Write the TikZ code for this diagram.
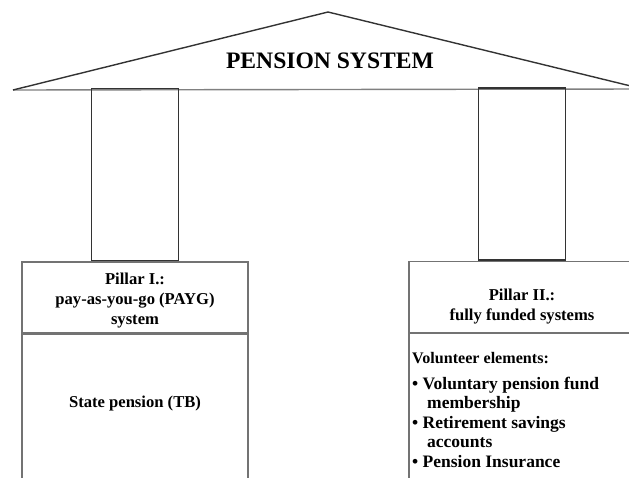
\documentclass[tikz,border=0pt]{standalone}
\usepackage{fontspec}
\setmainfont{Liberation Serif}
\usetikzlibrary{positioning}

\begin{document}
\begin{tikzpicture}[
    x=1pt, y=-1pt,
    node distance=0pt,
    every node/.style={font=\bfseries\fontsize{16.6}{20}\selectfont},
    hdr/.style={rectangle, draw=black!55, line width=1.3pt, minimum width=226pt, minimum height=71pt, inner sep=0pt},
    body/.style={rectangle, draw=black!55, line width=1.3pt, minimum width=226pt, minimum height=160pt, inner sep=0pt},
    pillar/.style={rectangle, draw=black!80, line width=1.4pt, minimum width=87pt, minimum height=172pt, inner sep=0pt},
    txt/.style={align=center, inner sep=0pt},
    items/.style={align=left, inner sep=0pt, font=\bfseries\fontsize{17.5}{19.5}\selectfont}
]
\useasboundingbox (0,0) rectangle (629,477);
\clip (0,0) rectangle (629,477);

% Roof
\coordinate (eaveL) at (13,90);
\coordinate (ridge) at (328,12);
\coordinate (eaveR) at (643,89);
\draw[line width=1.4pt, black!50] (eaveL) -- (eaveR);
\draw[line width=1.4pt, black!80] (eaveL) -- (ridge) -- (eaveR);
\node (title) at (330,61) {\fontsize{23.6}{28}\selectfont PENSION SYSTEM};

% Pillar I
\node[hdr] (hdrI) at (135,297.5) {};
\node[body, below=of hdrI] (bodyI) {};
\node[pillar, above=of hdrI] (pilI) {};
\node[txt] (lblI) at ([yshift=-3pt]hdrI.center) {Pillar I.:\\pay-as-you-go (PAYG)\\system};
\node[txt] (stateI) at (135,404) {State pension (TB)};

% Pillar II
\node[hdr] (hdrII) at (522,297) {};
\node[body, below=of hdrII] (bodyII) {};
\node[pillar, above=of hdrII] (pilII) {};
\node[txt] (lblII) at ([yshift=-10pt]hdrII.center) {Pillar II.:\\fully funded systems};
\node[items, anchor=north west] (volII) at (412,352.5) {\fontsize{16.1}{19.5}\selectfont Volunteer elements:\\[6pt]
  \textbullet\ Voluntary pension fund\\
  \hspace*{15pt}membership\\
  \textbullet\ Retirement savings\\
  \hspace*{15pt}accounts\\
  \textbullet\ Pension Insurance};

\end{tikzpicture}
\end{document}
